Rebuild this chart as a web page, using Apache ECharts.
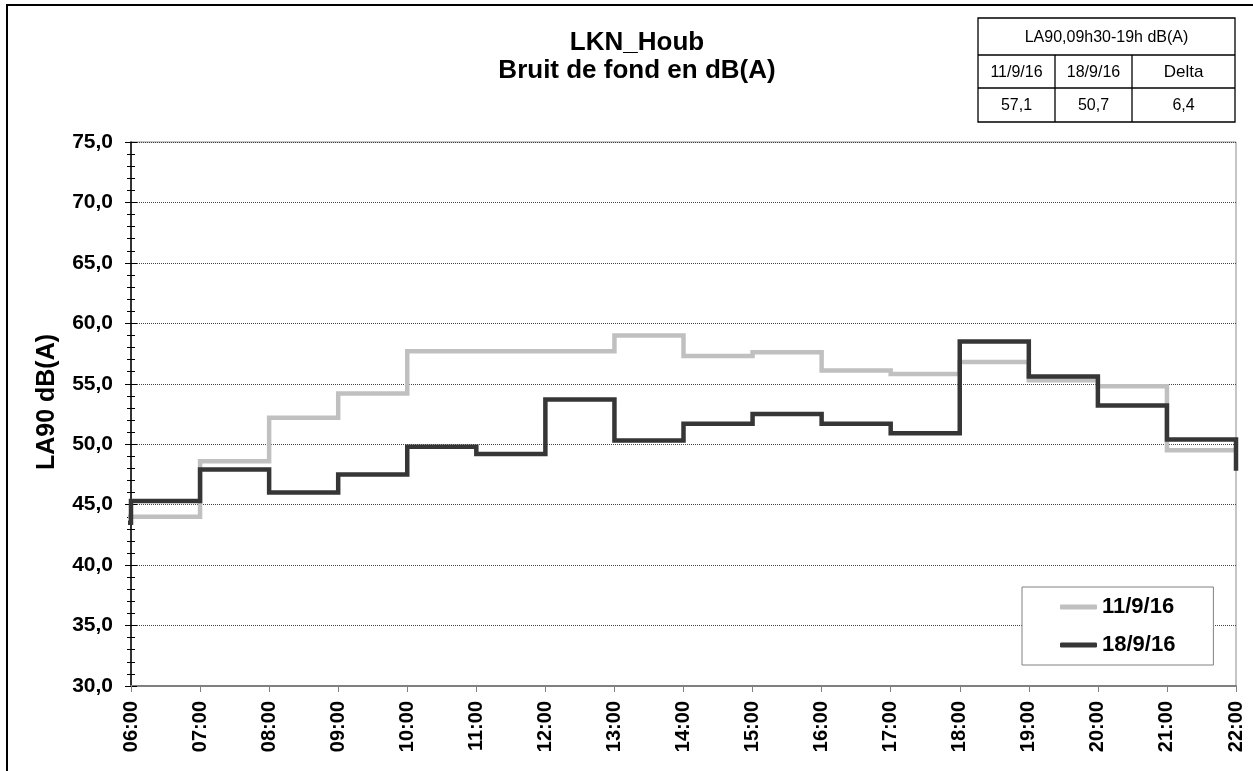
<!DOCTYPE html>
<html><head><meta charset="utf-8">
<script src="https://cdn.jsdelivr.net/npm/echarts@6/dist/echarts.min.js"></script>
<style>html,body{margin:0;padding:0;background:#fff}#c{width:1253px;height:771px}</style>
</head><body><div id="c"></div>
<script>
// ---- data ----
const hours = [5, 6, 7, 8, 9, 10, 11, 12, 13, 14, 15, 16, 17, 18, 19, 20, 21, 22];
const hourLabels = ['06:00','07:00','08:00','09:00','10:00','11:00','12:00','13:00','14:00','15:00','16:00','17:00','18:00','19:00','20:00','21:00','22:00'];
const seriesNames = ['11/9/16', '18/9/16'];
const la90_11 = [44.0, 44.0, 48.6, 52.2, 54.2, 57.7, 57.7, 57.7, 59.0, 57.3, 57.6, 56.1, 55.8, 56.8, 55.3, 54.8, 49.5, 49.5];
const la90_18 = [43.5, 45.3, 47.9, 46.0, 47.5, 49.8, 49.2, 53.7, 50.3, 51.7, 52.5, 51.7, 50.9, 58.5, 55.6, 53.2, 50.4, 47.8];
const titleLines = ['LKN_Houb', 'Bruit de fond en dB(A)'];
const yAxisTitle = 'LA90 dB(A)';
const tableHeader = 'LA90,09h30-19h dB(A)';
const tableCols = ['11/9/16', '18/9/16', 'Delta'];
const tableVals = ['57,1', '50,7', '6,4'];

const FONT = '"Liberation Sans", Arial, sans-serif';
const chart = echarts.init(document.getElementById('c'), null, {renderer: 'canvas'});

function pairs(vals) { return hours.map((h, i) => [h, vals[i]]); }

const tbl = {x0: 978, x1: 1055, x2: 1132, x3: 1235, y0: 18, y1: 55, y2: 88, y3: 122};
const cellCx = [(tbl.x0 + tbl.x1) / 2, (tbl.x1 + tbl.x2) / 2, (tbl.x2 + tbl.x3) / 2];
const lineStyleT = {stroke: '#000', lineWidth: 1.3};
const graphics = [
  {type: 'rect', shape: {x: 7, y: 5, width: 1300, height: 800}, style: {fill: null, stroke: '#000', lineWidth: 2}, silent: true, z: 100},
  {type: 'text', x: 637, y: 43, style: {text: titleLines[0], font: 'bold 26px ' + FONT, fill: '#000', align: 'center', verticalAlign: 'middle'}},
  {type: 'text', x: 637, y: 71, style: {text: titleLines[1], font: 'bold 26px ' + FONT, fill: '#000', align: 'center', verticalAlign: 'middle'}},
  {type: 'text', x: 47, y: 402, rotation: Math.PI / 2, style: {text: yAxisTitle, font: 'bold 25px ' + FONT, fill: '#000', align: 'center', verticalAlign: 'middle'}},
  {type: 'rect', shape: {x: tbl.x0, y: tbl.y0, width: tbl.x3 - tbl.x0, height: tbl.y3 - tbl.y0}, style: Object.assign({fill: '#fff'}, lineStyleT)},
  {type: 'line', shape: {x1: tbl.x0, y1: tbl.y1, x2: tbl.x3, y2: tbl.y1}, style: lineStyleT},
  {type: 'line', shape: {x1: tbl.x0, y1: tbl.y2, x2: tbl.x3, y2: tbl.y2}, style: lineStyleT},
  {type: 'line', shape: {x1: tbl.x1, y1: tbl.y1, x2: tbl.x1, y2: tbl.y3}, style: lineStyleT},
  {type: 'line', shape: {x1: tbl.x2, y1: tbl.y1, x2: tbl.x2, y2: tbl.y3}, style: lineStyleT},
  {type: 'text', x: (tbl.x0 + tbl.x3) / 2, y: (tbl.y0 + tbl.y1) / 2 + 1, style: {text: tableHeader, font: '16px ' + FONT, fill: '#000', align: 'center', verticalAlign: 'middle'}}
];
tableCols.forEach((t, i) => graphics.push({type: 'text', x: cellCx[i], y: (tbl.y1 + tbl.y2) / 2 + 1, style: {text: t, font: (i === 2 ? '17px ' : '16px ') + FONT, fill: '#000', align: 'center', verticalAlign: 'middle'}}));
tableVals.forEach((t, i) => graphics.push({type: 'text', x: cellCx[i], y: (tbl.y2 + tbl.y3) / 2 + 1, style: {text: t, font: '16px ' + FONT, fill: '#000', align: 'center', verticalAlign: 'middle'}}));

const yCommon = {type: 'value', min: 30, max: 75, interval: 5, position: 'left'};
const option = {
  animation: false,
  backgroundColor: '#fff',
  textStyle: {fontFamily: FONT},
  grid: {left: 131, right: 17, top: 142, bottom: 85, show: true, borderColor: '#8c8c8c', borderWidth: 1, backgroundColor: 'transparent'},
  legend: {
    orient: 'vertical', left: 1022, top: 587,
    data: seriesNames,
    icon: 'roundRect', itemWidth: 37, itemHeight: 5, itemGap: 16,
    padding: [9, 38, 9, 38],
    borderColor: '#808080', borderWidth: 1, backgroundColor: '#fff',
    textStyle: {fontFamily: FONT, fontSize: 22, fontWeight: 'bold', color: '#000'}
  },
  xAxis: {
    type: 'value', min: 6, max: 22, interval: 1,
    axisLine: {show: true, onZero: false, lineStyle: {color: '#808080', width: 2}},
    axisTick: {show: true, length: 6, lineStyle: {color: '#808080', width: 1}},
    splitLine: {show: false},
    axisLabel: {rotate: 90, margin: 15, fontFamily: FONT, fontSize: 20, fontWeight: 'bold', color: '#000',
      formatter: v => hourLabels[Math.round(v) - 6]}
  },
  yAxis: [
    Object.assign({}, yCommon, {
      axisLine: {show: true, lineStyle: {color: '#000', width: 1.5}},
      axisTick: {show: true, inside: false, length: 6, lineStyle: {color: '#000', width: 1}},
      minorTick: {show: true, splitNumber: 5, length: 4, lineStyle: {color: '#000', width: 1}},
      splitLine: {show: true, lineStyle: {color: '#444', width: 1, type: [1, 1]}},
      axisLabel: {margin: 18, fontFamily: FONT, fontSize: 21, fontWeight: 'bold', color: '#000',
        formatter: v => v.toFixed(1).replace('.', ',')}
    }),
    Object.assign({}, yCommon, {
      axisLine: {show: false},
      axisTick: {show: true, inside: true, length: 6, lineStyle: {color: '#000', width: 1}},
      minorTick: {show: true, splitNumber: 5, length: 4, lineStyle: {color: '#000', width: 1}},
      splitLine: {show: false},
      axisLabel: {show: false}
    })
  ],
  series: [
    {name: seriesNames[0], type: 'line', step: 'end', data: pairs(la90_11), symbol: 'none', yAxisIndex: 0,
      color: '#c0c0c0', lineStyle: {color: '#c0c0c0', width: 4.5, join: 'miter'}, itemStyle: {color: '#c0c0c0'}, z: 2},
    {name: seriesNames[1], type: 'line', step: 'end', data: pairs(la90_18), symbol: 'none', yAxisIndex: 0,
      color: '#363636', lineStyle: {color: '#363636', width: 4.5, join: 'miter'}, itemStyle: {color: '#363636'}, z: 3}
  ],
  graphic: graphics
};
chart.setOption(option);
</script>
</body></html>
